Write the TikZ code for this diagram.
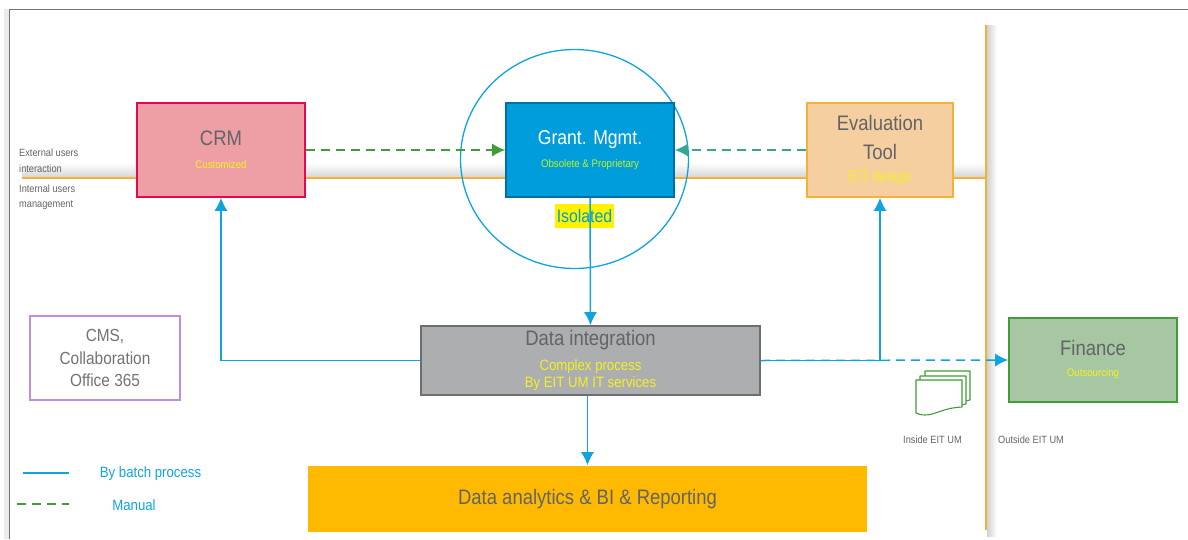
\documentclass[tikz,border=0pt]{standalone}
\usepackage{fontspec}
\setmainfont[FakeStretch=0.88]{Liberation Sans}
\usetikzlibrary{shapes.geometric,arrows.meta}
\definecolor{txtgray}{HTML}{636466}
\definecolor{blueline}{HTML}{0FA3E0}
\definecolor{subyellow}{HTML}{F4F022}
\definecolor{orangeline}{HTML}{F5B133}
\definecolor{orangefill}{HTML}{F5CFA0}
\definecolor{greenline}{HTML}{3F9E35}
\definecolor{tealline}{HTML}{35A596}
\newcommand{\subsmall}[1]{{\fontsize{11}{14}\selectfont\color{subyellow}#1}}
\newcommand{\subbig}[1]{{\fontsize{15}{17}\selectfont\color{subyellow}#1}}
\tikzset{
  box/.style={draw,line width=1.6pt,align=center,inner sep=0pt,text=txtgray,font=\fontsize{21}{29}\selectfont},
  small/.style={anchor=west,inner sep=0pt,text=txtgray,font=\fontsize{10.5}{12}\selectfont},
  legendtxt/.style={inner sep=0pt,text=blueline,font=\fontsize{15}{18}\selectfont},
  flow/.style={draw=blueline,line width=1.5pt,-{Latex[length=13pt,width=13pt]}},
  plain/.style={draw=blueline,line width=1.5pt},
  manual/.style={draw=greenline,line width=1.6pt,dash pattern=on 9pt off 6pt},
  sheet/.style={draw=greenline,line width=1.1pt,fill=white,line join=round}
}
\begin{document}
\begin{tikzpicture}[x=1pt,y=-1pt]
\useasboundingbox (0,0) rectangle (1188,539);
% frame
\fill[black!8] (4,9) rectangle (9,539);
\draw[black!55,line width=1pt] (9,539) -- (9,9) -- (1188,9);
% shadows
\shade[top color=white,bottom color=black!16] (22,163) rectangle (986,177);
\shade[left color=black!18,right color=white] (987,25) rectangle (997,536);
% orange rules
\coordinate (hstart) at (22,178);
\coordinate (vtop) at (986,25);
\coordinate (vbot) at (986,530);
\draw[orangeline,line width=1.5pt] (hstart) -- (hstart -| vtop);
\draw[orangeline,line width=1.5pt] (vtop) -- (vbot);
% ellipse
\node[ellipse,draw=blueline,line width=1.3pt,minimum width=228pt,minimum height=219pt,inner sep=0pt] (hub) at (574.5,159) {};
% boxes
\node[box,draw=orangeline,fill=orangefill,minimum width=146pt,minimum height=94pt] (ev) at (880,150) {Evaluation\\Tool\\[-7pt]\subbig{EIT design}};
\node[box,draw={rgb,255:red,232;green,6;blue,78},fill={rgb,255:red,238;green,159;blue,166},minimum width=168pt,minimum height=94pt] (crm) at (221,150) {CRM\\[-6pt]\subsmall{Customized}};
\node[box,draw={rgb,255:red,0;green,112;blue,160},fill={rgb,255:red,0;green,157;blue,220},text=white,minimum width=168pt,minimum height=94pt,font=\fontsize{20}{29}\selectfont] (gm) at (590,150) {Grant. Mgmt.\\[-6pt]{\fontsize{11}{14}\selectfont\color{subyellow!80!green}Obsolete \& Proprietary}};
\node[box,draw={rgb,255:red,109;green,110;blue,113},fill={rgb,255:red,173;green,174;blue,176},minimum width=339pt,minimum height=69pt] (di) at (590.5,360.5) {Data integration\\[-4pt]\subbig{Complex process}\\[-12pt]\subbig{By EIT UM IT services}};
\node[box,draw=none,fill={rgb,255:red,255;green,185;blue,0},minimum width=559pt,minimum height=66pt] (ana) at (587.5,499) {Data analytics \& BI \& Reporting};
\node[box,draw=greenline,fill={rgb,255:red,167;green,199;blue,163},minimum width=168pt,minimum height=84pt] (fin) at (1093,360) {Finance\\[-8pt]\subsmall{Outsourcing}};
\node[box,draw={rgb,255:red,192;green,142;blue,220},line width=1.2pt,fill=white,text=black!55,minimum width=150pt,minimum height=84pt,font=\fontsize{17.5}{22.5}\selectfont] (cms) at (105,358) {CMS,\\Collaboration\\Office 365};
% isolated
\node[fill=yellow,text={rgb,255:red,0;green,160;blue,200},inner sep=0pt,minimum width=59pt,minimum height=24pt,font=\fontsize{18}{20}\selectfont] (iso) at (584.5,216) {Isolated};
% connectors
\draw[manual,-{Latex[length=13pt,width=13pt]}] (crm.east) -- (gm.west);
\draw[tealline,line width=1.6pt,dash pattern=on 9pt off 6pt,-{Latex[length=13pt,width=13pt]}] (ev.west) -- (gm.east);
\draw[flow] (di.west) -- (di.west -| crm.south) -- (crm.south);
\draw[flow] (gm.south) -- (di.north);
\draw[flow] (ana.north |- di.south) -- (ana.north);
\draw[flow] (di.east) -- (di.east -| ev.south) -- (ev.south);
\draw[flow,dash pattern=on 9pt off 6pt] (di.east) -- (fin.west);
% document stack
\draw[sheet] (925,371) -- (970,371) -- (970,400) -- (960,402) -- (925,402) -- cycle;
\draw[sheet] (920,376) -- (966,376) -- (966,404) -- (955,406) -- (920,406) -- cycle;
\draw[sheet] (916,380) -- (962,380) -- (962,407) .. controls (942,408) and (936,415) .. (925,415) .. controls (921,415) and (918,414) .. (916,413) -- cycle;
% labels
\node[small] (l1) at (19,153) {External users};
\node[small] (l2) at (19,169) {interaction};
\node[small] (l3) at (19,189) {Internal users};
\node[small] (l4) at (19,205) {management};
\node[small] (l5) at (903,440) {Inside EIT UM};
\node[small] (l6) at (998,440) {Outside EIT UM};
% legend
\coordinate (ls1) at (23,473);
\coordinate (ls2) at (69,473);
\coordinate (lm1) at (17,504);
\coordinate (lm2) at (69,504);
\draw[plain] (ls1) -- (ls2);
\draw[greenline,line width=1.5pt,dash pattern=on 9pt off 6pt] (lm1) -- (lm2);
\node[legendtxt] (lg1) at (150.5,474) {By batch process};
\node[legendtxt] (lg2) at (134,505) {Manual};
\end{tikzpicture}
\end{document}
